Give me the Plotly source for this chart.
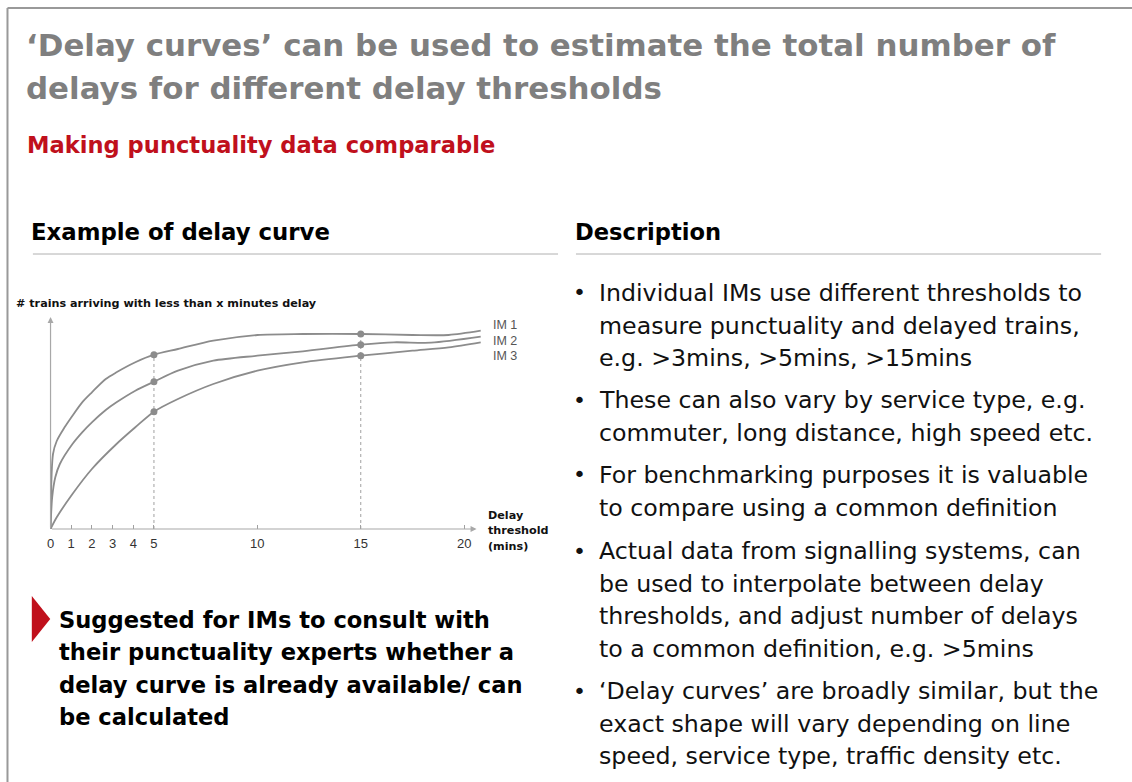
import plotly.graph_objects as go

W, H = 1132, 782

# ---- data (y = relative number of trains, arbitrary units) ----
im1_x = [0, 0.12, 0.3, 0.68, 1.06, 1.53, 2.0, 2.67, 3.19, 4.1, 5, 6.16, 7.87, 10, 12.2, 15, 17.5, 19.25, 20.8]
im1_y = [0, 75, 88, 101.7, 113.3, 126.7, 136.7, 150, 156.7, 166.7, 174.3, 180, 188.3, 194, 195, 195, 194, 194, 198.3]

im2_x = [0, 0.08, 0.23, 0.45, 1.06, 1.53, 2.0, 2.67, 3.19, 4.1, 5, 6.16, 7.87, 10, 12.2, 15, 16.6, 18.4, 20.8]
im2_y = [0, 31.7, 51.7, 65, 85, 96.7, 106.7, 119, 126.7, 138.3, 147.3, 158.3, 168.3, 173.3, 177.7, 184.3, 186.7, 186.3, 192.3]

im3_x = [0, 0.3, 1.06, 2.0, 3.19, 4.1, 5, 6.16, 7.87, 10, 12.2, 15, 17.5, 19.25, 20.8]
im3_y = [0, 11.7, 35, 60, 85, 101.7, 117.3, 130, 145, 158.3, 166.7, 173.3, 178.3, 181.7, 186.7]

series_names = ["IM 1", "IM 2", "IM 3"]
marked_thresholds = [5, 15]
tick_values = [0, 1, 2, 3, 4, 5, 10, 15, 20]
tick_labels = ["0", "1", "2", "3", "4", "5", "10", "15", "20"]

title_lines = ["\u2018Delay curves\u2019 can be used to estimate the total number of",
               "delays for different delay thresholds"]
subtitle = "Making punctuality data comparable"
left_heading = "Example of delay curve"
right_heading = "Description"
y_axis_label = "# trains arriving with less than x minutes delay"
x_axis_label = ["Delay", "threshold", "(mins)"]
callout_lines = ["Suggested for IMs to consult with",
                 "their punctuality experts whether a",
                 "delay curve is already available/ can",
                 "be calculated"]
bullets = [
    ["Individual IMs use different thresholds to",
     "measure punctuality and delayed trains,",
     "e.g. >3mins, >5mins, >15mins"],
    ["These can also vary by service type, e.g.",
     "commuter, long distance, high speed etc."],
    ["For benchmarking purposes it is valuable",
     "to compare using a common definition"],
    ["Actual data from signalling systems, can",
     "be used to interpolate between delay",
     "thresholds, and adjust number of delays",
     "to a common definition, e.g. >5mins"],
    ["\u2018Delay curves\u2019 are broadly similar, but the",
     "exact shape will vary depending on line",
     "speed, service type, traffic density etc."],
]

# ---- layout helpers (pixel -> paper) ----
def px(x):
    return x / W

def py(y):
    return 1 - y / H

GREY = "#8c8c8c"
FONT = "DejaVu Sans, Liberation Sans, Arial, sans-serif"
AFONT = "Liberation Sans, Arial, sans-serif"

fig = go.Figure()

# plot area geometry
x0_px, x_end_px, px_per_unit = 46.7, 480.0, 20.755
base_px, top_px, y_units_top = 529.0, 300.0, 229.0
x_range = [0, (x_end_px - x0_px) / px_per_unit]

curves = [(im1_x, im1_y), (im2_x, im2_y), (im3_x, im3_y)]
for name, (xs, ys) in zip(series_names, curves):
    fig.add_trace(go.Scatter(x=xs, y=ys, mode="lines", name=name,
                             line=dict(color=GREY, width=1.8, shape="spline", smoothing=0.8),
                             hoverinfo="skip", showlegend=False))

# dots at marked thresholds + dashed drop lines
for xs, ys in curves:
    mx = [t for t in marked_thresholds]
    my = [ys[xs.index(t)] for t in marked_thresholds]
    fig.add_trace(go.Scatter(x=mx, y=my, mode="markers",
                             marker=dict(color=GREY, size=7),
                             hoverinfo="skip", showlegend=False))
for t in marked_thresholds:
    top = max(ys[xs.index(t)] for xs, ys in curves)
    fig.add_shape(type="line", x0=t, x1=t, y0=0, y1=top, xref="x", yref="y",
                  line=dict(color="#a0a0a0", width=1, dash="3px,3px"), layer="below")

fig.update_xaxes(range=x_range, domain=[px(x0_px), px(x_end_px)],
                 tickvals=tick_values, ticktext=tick_labels,
                 ticks="inside", ticklen=4, tickcolor="#a0a0a0", tickwidth=1,
                 ticklabelstandoff=5,
                 showgrid=False, zeroline=False, showline=False,
                 tickfont=dict(family=AFONT, size=13, color="#333333"))
fig.update_yaxes(range=[0, y_units_top], domain=[py(base_px), py(top_px)],
                 showgrid=False, zeroline=False, showline=False,
                 showticklabels=False, ticks="")

# axes with arrows
fig.add_annotation(x=20.6, y=0, ax=0, ay=0, xref="x", yref="y", axref="x", ayref="y",
                   showarrow=True, arrowhead=2, arrowsize=1, arrowwidth=1.2,
                   arrowcolor="#a8a8a8", text="")
fig.add_annotation(x=0, y=212, ax=0, ay=0, xref="x", yref="y", axref="x", ayref="y",
                   showarrow=True, arrowhead=2, arrowsize=1, arrowwidth=1.2,
                   arrowcolor="#a8a8a8", text="")

anns = []

def txt(x, y, s, size, color="#000000", bold=False, xanchor="left", family=FONT):
    t = "<b>%s</b>" % s if bold else s
    anns.append(dict(x=px(x), y=py(y), xref="paper", yref="paper", text=t,
                     showarrow=False, xanchor=xanchor, yanchor="middle",
                     font=dict(family=family, size=size, color=color)))

# titles
for i, line in enumerate(title_lines):
    txt(20, 45 + 43 * i, line, 30.9, "#7f7f7f", bold=True)
txt(21, 145, subtitle, 22.6, "#c0101c", bold=True)
txt(25, 232, left_heading, 22.8, bold=True)
txt(571, 232, right_heading, 22.6, bold=True)

# chart labels
txt(10, 303, y_axis_label, 11.2, "#111111", bold=True)
for i, s in enumerate(x_axis_label):
    txt(484, 515 + 15.5 * i, s, 11.2, "#111111", bold=True)
for i, s in enumerate(series_names):
    txt(489, 325 + 15.5 * i, s, 12.5, "#555555", family=AFONT)

# callout
for i, s in enumerate(callout_lines):
    txt(53, 620 + 32.3 * i, s, 22.6, bold=True)

# bullets
bullet_tops = [293, 400, 475, 551, 691]
for top, lines in zip(bullet_tops, bullets):
    txt(569, top, "\u2022", 22, "#111111")
    for j, s in enumerate(lines):
        txt(595, top + 32.6 * j, s, 23.7, "#111111")

fig.update_layout(annotations=fig.layout.annotations + tuple(anns))

# frame, underlines, triangle
shapes = [
    dict(type="line", xref="paper", yref="paper", x0=px(3.5), x1=1, y0=py(8), y1=py(8),
         line=dict(color="#999999", width=2)),
    dict(type="line", xref="paper", yref="paper", x0=px(3.5), x1=px(3.5), y0=py(8), y1=0,
         line=dict(color="#999999", width=2)),
    dict(type="line", xref="paper", yref="paper", x0=px(29), x1=px(556), y0=py(254), y1=py(254),
         line=dict(color="#b0b0b0", width=1)),
    dict(type="line", xref="paper", yref="paper", x0=px(574), x1=px(1101), y0=py(254), y1=py(254),
         line=dict(color="#b0b0b0", width=1)),
    dict(type="path", xref="paper", yref="paper",
         path="M %f,%f L %f,%f L %f,%f Z" % (px(27.9), py(596), px(46.4), py(619), px(27.9), py(642)),
         fillcolor="#c0101c", line=dict(width=0)),
]
for s in shapes:
    fig.add_shape(**s)

fig.update_layout(width=W, height=H, margin=dict(l=0, r=0, t=0, b=0),
                  paper_bgcolor="white", plot_bgcolor="white", showlegend=False)

fig.write_html("out.html", config={"displayModeBar": False, "staticPlot": True},
               post_script="document.body.style.margin='0';document.body.style.overflow='hidden';")
